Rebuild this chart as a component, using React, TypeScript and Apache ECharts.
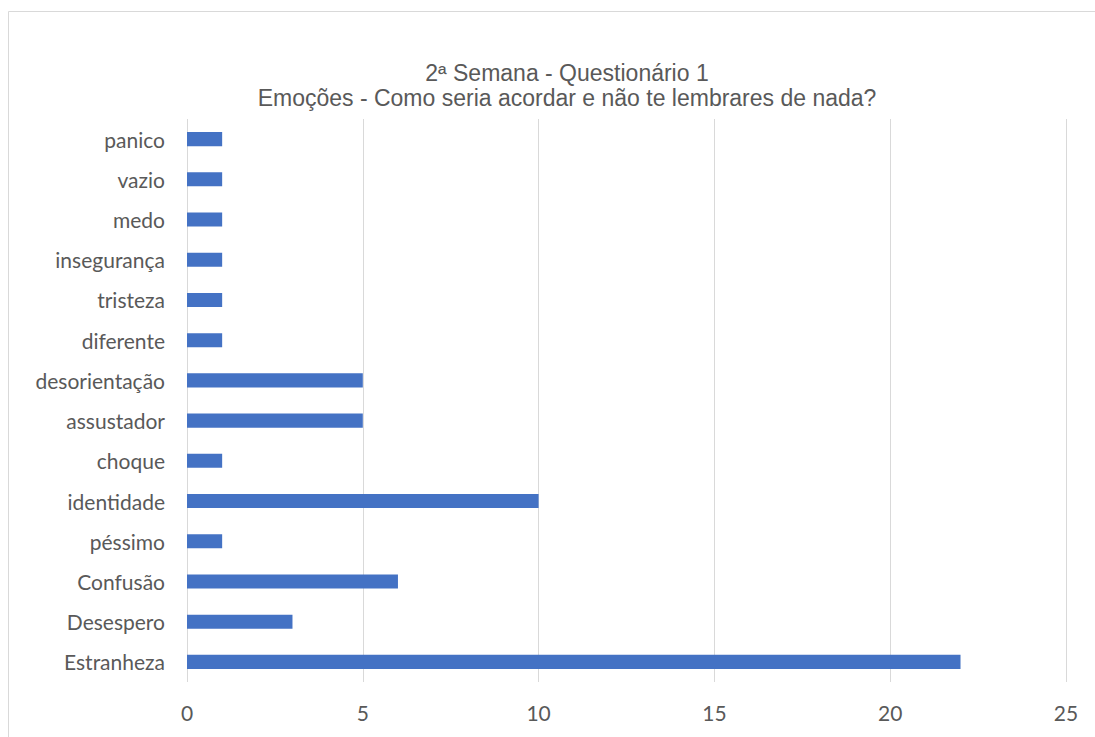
import React, { useEffect, useRef } from "react";
import * as echarts from "echarts";

const categories = [
  "Estranheza",
  "Desespero",
  "Confusão",
  "péssimo",
  "identidade",
  "choque",
  "assustador",
  "desorientação",
  "diferente",
  "tristeza",
  "insegurança",
  "medo",
  "vazio",
  "panico",
];
const values = [22, 3, 6, 1, 10, 1, 5, 5, 1, 1, 1, 1, 1, 1];
const titleLines = ["2ª Semana - Questionário 1", "Emoções - Como seria acordar e não te lembrares de nada?"];

export default function App() {
  const ref = useRef<HTMLDivElement>(null);
  useEffect(() => {
    if (!ref.current) return;
    const chart = echarts.init(ref.current, null, { renderer: "svg" });
    chart.setOption({
      animation: false,
      backgroundColor: "#ffffff",
      title: {
        text: titleLines.join("\n"),
        left: 562,
        top: 55,
        textAlign: "center",
        textStyle: {
          fontFamily: "Liberation Sans, Arial, sans-serif",
          fontSize: 23,
          fontWeight: "normal",
          color: "#595959",
          lineHeight: 25,
        },
      },
      graphic: [
        {
          type: "rect",
          shape: { x: 8.5, y: 11.5, width: 1300, height: 1000 },
          style: { fill: "none", stroke: "#d9d9d9", lineWidth: 1 },
          silent: true,
          z: -10,
        },
      ],
      grid: { left: 187, right: 1095 - 1066, top: 119, bottom: 737 - 682 },
      xAxis: {
        type: "value",
        min: 0,
        max: 25,
        interval: 5,
        axisLine: { show: false },
        axisTick: { show: false },
        splitLine: { lineStyle: { color: "#d9d9d9", width: 1 } },
        axisLabel: {
          margin: 20,
          color: "#595959",
          fontFamily: "Lato, Carlito, Calibri, sans-serif",
          fontSize: 21,
        },
      },
      yAxis: {
        type: "category",
        data: categories,
        axisLine: { show: false },
        axisTick: { show: false },
        axisLabel: {
          margin: 22,
          color: "#595959",
          fontFamily: "Lato, Carlito, Calibri, sans-serif",
          fontSize: 21,
        },
      },
      series: [
        {
          type: "bar",
          data: values,
          barWidth: "35%",
          itemStyle: { color: "#4472C4" },
        },
      ],
    });
    return () => chart.dispose();
  }, []);
  return (
    <div
      ref={ref}
      style={{ position: "fixed", left: 0, top: 0, width: 1095, height: 737, overflow: "hidden" }}
    />
  );
}
